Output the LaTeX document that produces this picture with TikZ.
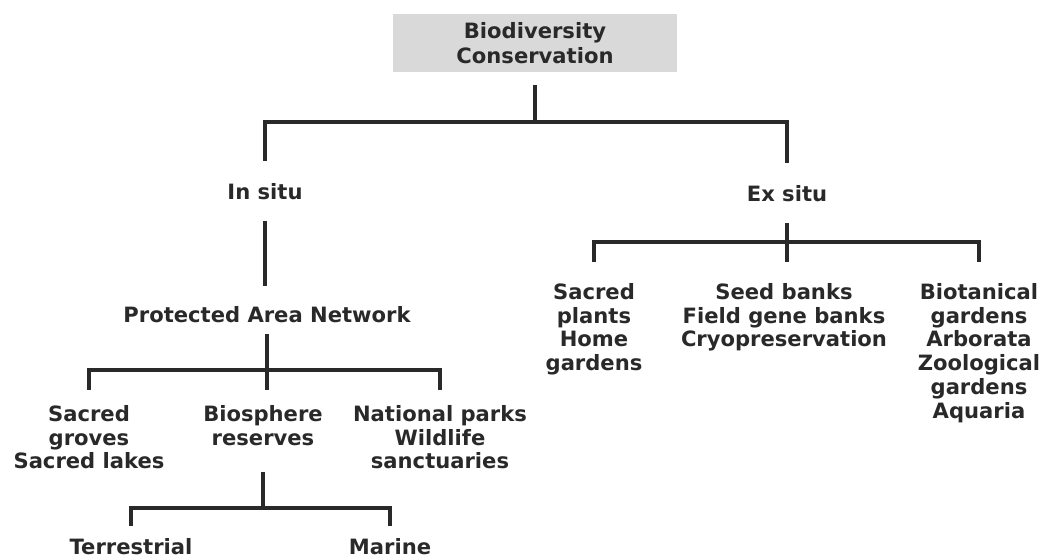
\documentclass[tikz,border=0pt]{standalone}
\usepackage{fontspec}
\setmainfont{DejaVu Sans}
\usepackage{tikz}
\usetikzlibrary{positioning}
\usetikzlibrary{calc}
\definecolor{inkgray}{gray}{0.16}
\definecolor{boxgray}{gray}{0.85}
\tikzset{root node/.style={rectangle,fill=boxgray,align=center,minimum width=7.075cm,minimum height=1.425cm,inner sep=2pt,font=\fontsize{15}{17.5}\selectfont\bfseries,text=inkgray},}
\tikzset{label node/.style={align=center,inner sep=2pt,font=\fontsize{15}{17}\selectfont\bfseries,text=inkgray},}
\tikzset{leaf node/.style={label node,anchor=north},}
\tikzset{branch/.style={draw=inkgray,line width=2.8pt},}

\begin{document}
\begin{tikzpicture}[x=0.025cm, y=-0.025cm]
		\useasboundingbox (0,0) rectangle (1040,559);
		\node[root node] (biodiv) at (535,43) {Biodiversity\\Conservation};
	    \node[label node] (insitu) at (265,192) {In situ};
	    \node[label node] (exsitu) at (787,194) {Ex situ};
	    \node[label node] (pan) at (267,315) {Protected Area Network};
	    \node[leaf node] (sacred) at (594,280) {Sacred\\plants\\Home\\gardens};
	    \node[leaf node] (seed) at (784,280) {Seed banks\\Field gene banks\\Cryopreservation};
	    \node[leaf node] (botan) at (979,280) {Biotanical\\gardens\\Arborata\\Zoological\\gardens\\Aquaria};
	    \node[leaf node] (groves) at (89,402) {Sacred\\groves\\Sacred lakes};
	    \node[leaf node] (biosph) at (263,402) {Biosphere\\reserves};
	    \node[leaf node] (natpark) at (440,402) {National parks\\Wildlife\\sanctuaries};
	    \node[leaf node] (terr) at (131,535) {Terrestrial};
	    \node[leaf node] (marine) at (390,535) {Marine};
	
	    \coordinate (bar1) at (535,122);
	    \coordinate (bar2) at (787,242);
	    \coordinate (bar3) at (263,370);
	    \coordinate (bar4) at (263,508);
	
	    \draw[branch, shorten <=0.325cm] (biodiv.south) -- (bar1);
	    \draw[branch, shorten <=0.5cm, shorten >=0.5cm] (insitu.north) |- (bar1) -| (exsitu.north);
	    \draw[branch, shorten <=0.45cm, shorten >=0.45cm] (insitu.south) -- (insitu.south |- pan.north);
	    \draw[branch, shorten <=0.45cm, shorten >=0.45cm] (exsitu.south) -- (exsitu.south |- seed.north);
	    \draw[branch, shorten <=0.45cm, shorten >=0.45cm] (sacred.north) |- (bar2) -| (botan.north);
	    \draw[branch, shorten <=0.2cm, shorten >=0.3cm] (pan.south) -- (pan.south |- biosph.north);
	    \draw[branch, shorten <=0.3cm, shorten >=0.3cm] (groves.north) |- (bar3) -| (natpark.north);
	    \draw[branch, shorten <=0.6cm] (biosph.south) -- (bar4);
	    \draw[branch, shorten <=0.225cm, shorten >=0.225cm] (terr.north) |- (bar4) -| (marine.north);
	\end{tikzpicture}
\end{document}
